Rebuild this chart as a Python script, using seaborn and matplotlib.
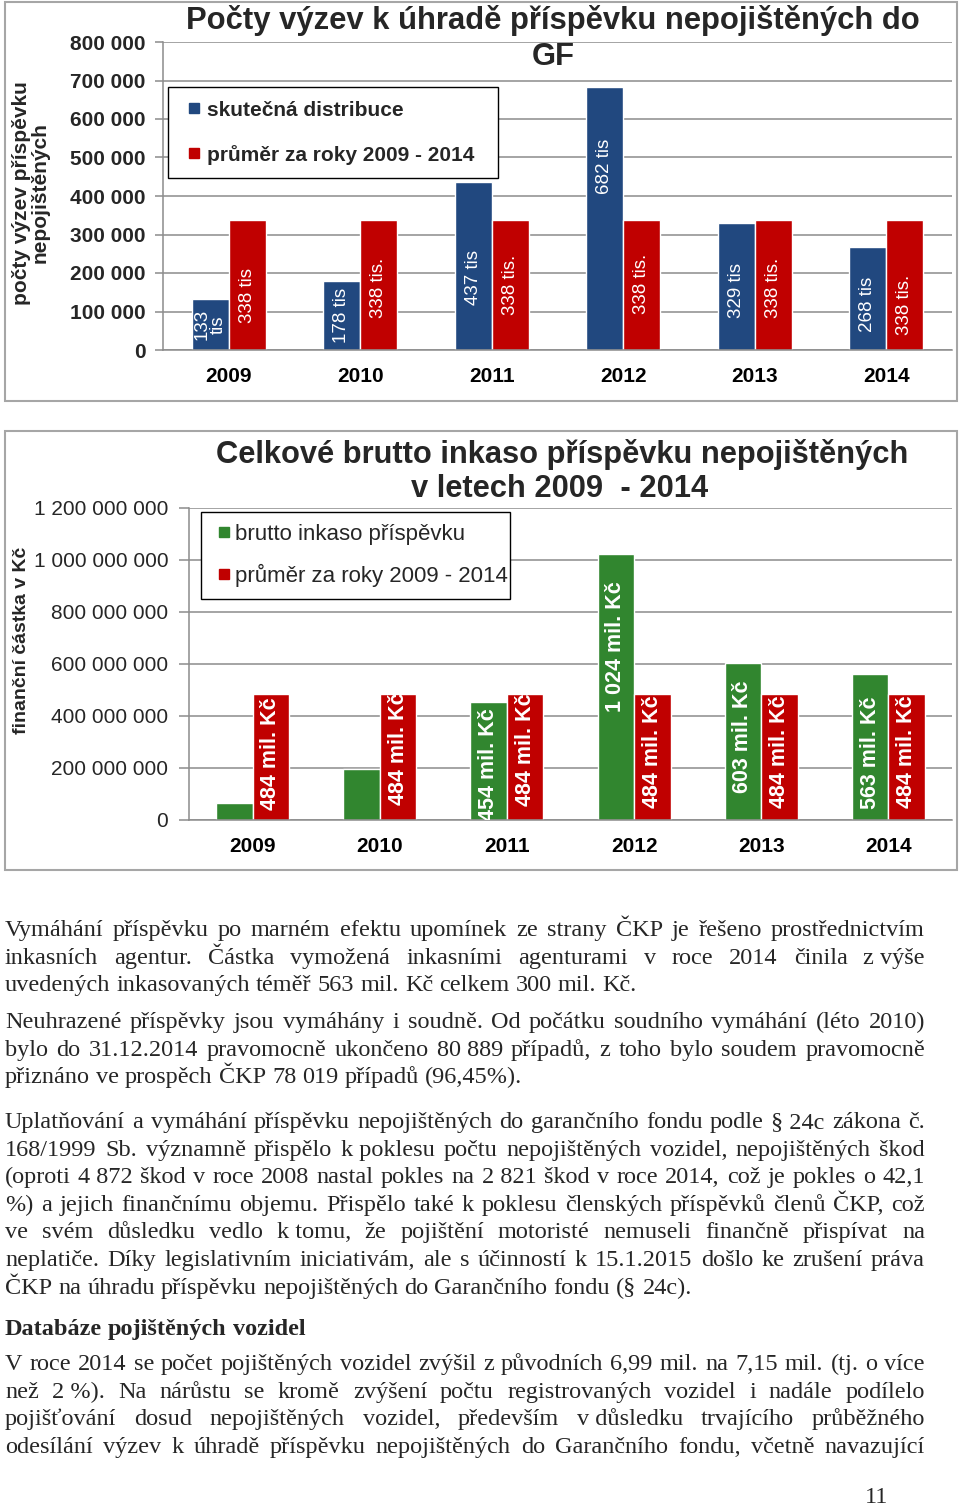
import numpy as np
import pandas as pd
import matplotlib
matplotlib.use('Agg')
import matplotlib.pyplot as plt
from matplotlib.patches import Rectangle
from matplotlib.lines import Line2D
import seaborn as sns

roky = ['2009', '2010', '2011', '2012', '2013', '2014']

# graf 1 - pocty vyzev k uhrade
vyzvy_skutecne = [133000, 178000, 437000, 682000, 329000, 268000]
vyzvy_prumer = [338000, 338000, 338000, 338000, 338000, 338000]
vyzvy_popis_skut = ['133\ntis', '178 tis', '437 tis', '682 tis', '329 tis', '268 tis']
vyzvy_popis_prum = ['338 tis', '338 tis.', '338 tis.', '338 tis.', '338 tis.', '338 tis.']

# graf 2 - brutto inkaso
inkaso_brutto = [65e6, 196e6, 454e6, 1024e6, 603e6, 563e6]
inkaso_prumer = [484e6, 484e6, 484e6, 484e6, 484e6, 484e6]
inkaso_popis_brutto = ['', '', '454 mil. Kč', '1 024 mil. Kč', '603 mil. Kč', '563 mil. Kč']
inkaso_popis_prum = ['484 mil. Kč'] * 6

# kde v ramci sloupce sedi popisek (podil vysky sloupce)
poloha1_skut = [0.5, 0.5, 0.43, 0.7, 0.47, 0.44]
poloha1_prum = [0.42, 0.48, 0.5, 0.51, 0.48, 0.35]
poloha2_brutto = [0.5, 0.5, 0.47, 0.65, 0.53, 0.46]
poloha2_prum = [0.53, 0.57, 0.56, 0.54, 0.54, 0.54]

MODRA = '#21487f'
CERVENA = '#c00000'
ZELENA = '#31862f'
SEDA = '#8c8c8c'

sns.set_theme(style='white')
plt.rcParams['font.family'] = ['Liberation Sans', 'DejaVu Sans']

W, H = 960, 1506
fig = plt.figure(figsize=(W / 100, H / 100), dpi=100)


def box(x0, y0, x1, y1):
    return [x0 / W, 1 - y1 / H, (x1 - x0) / W, (y1 - y0) / H]


def fx(x):
    return x / W


def fy(y):
    return 1 - y / H


def mezery(v, pos):
    return f'{int(round(v)):,}'.replace(',', ' ')


def ctverec(barva, popis):
    return Line2D([], [], marker='s', color='none', markerfacecolor=barva,
                  markeredgecolor=barva, markersize=7.2, label=popis)


def graf(ax, h1, h2, nazvy, barvy, pop1, pop2, pol1, pol2, ymax, krok,
         sirka, ytick_w, pop_w, pop_size, tick_len, ypad):
    df = pd.DataFrame({
        'rok': roky * 2,
        'hodnota': list(h1) + list(h2),
        'serie': [nazvy[0]] * 6 + [nazvy[1]] * 6,
    })
    sns.barplot(data=df, x='rok', y='hodnota', hue='serie', palette=barvy,
                width=sirka, saturation=1, errorbar=None, legend=False, ax=ax)
    ax.set_xlim(-0.5, 5.5)
    ax.set_ylim(0, ymax)
    ax.set_yticks(np.arange(0, ymax + 1, krok))
    ax.yaxis.set_major_formatter(plt.FuncFormatter(mezery))
    ax.yaxis.grid(True, color=SEDA, lw=1.1)
    ax.set_axisbelow(True)
    for s in ['top', 'right']:
        ax.spines[s].set_visible(False)
    for s in ['left', 'bottom']:
        ax.spines[s].set_color(SEDA)
        ax.spines[s].set_linewidth(1.1)
    ax.set_xlabel('')
    ax.set_ylabel('')
    ax.set_xticks(range(6))
    ax.set_xticklabels(roky, fontweight='bold', fontsize=15)
    ax.set_xticks(np.arange(-0.5, 6, 1), minor=True)
    ax.tick_params(axis='x', which='major', length=0, pad=12, colors='black')
    ax.tick_params(axis='x', which='minor', length=6, width=1.1, color=SEDA, direction='out')
    ax.tick_params(axis='y', length=tick_len, width=1.1, color=SEDA, direction='out',
                   pad=ypad, labelsize=15, left=True)
    for t in ax.get_yticklabels():
        t.set_fontweight(ytick_w)
    ax.set_facecolor('white')

    for kont, popisky, polohy, hodnoty in zip(ax.containers, [pop1, pop2], [pol1, pol2], [h1, h2]):
        for bar, txt, p, v in zip(kont.patches, popisky, polohy, hodnoty):
            if not txt:
                continue
            ax.text(bar.get_x() + bar.get_width() / 2, v * p, txt, rotation=90,
                    ha='center', va='center', color='white', fontsize=pop_size,
                    fontweight=pop_w, linespacing=0.95, clip_on=True)


# ramecky grafu
for rb in [(5, 2, 957, 401), (5, 431, 957, 870)]:
    fig.patches.append(Rectangle((fx(rb[0]), fy(rb[3])), (rb[2] - rb[0]) / W, (rb[3] - rb[1]) / H,
                                 transform=fig.transFigure, fill=False,
                                 edgecolor='#a6a6a6', lw=1.5))

# ---------- graf 1 ----------
ax1 = fig.add_axes(box(163, 42, 952, 350))
graf(ax1, vyzvy_skutecne, vyzvy_prumer, ['skutečná distribuce', 'průměr za roky 2009 - 2014'],
     [MODRA, CERVENA], vyzvy_popis_skut, vyzvy_popis_prum, poloha1_skut, poloha1_prum,
     800000, 100000, 0.56, 'bold', 'normal', 13.5, 6, 6.5)
fig.text(fx(553), fy(21), 'Počty výzev k úhradě příspěvku nepojištěných do',
         ha='center', va='center', fontsize=22.3, fontweight='bold')
fig.text(fx(553), fy(57), 'GF', ha='center', va='center', fontsize=22.3, fontweight='bold')
fig.text(fx(31), fy(193), 'počty výzev příspěvku\nnepojištěných', rotation=90,
         ha='center', va='center', fontsize=15, fontweight='bold', linespacing=1.0)
fig.legend(handles=[ctverec(MODRA, 'skutečná distribuce'),
                    ctverec(CERVENA, 'průměr za roky 2009 - 2014')],
           loc='upper left', bbox_to_anchor=(fx(168), fy(178), 330 / W, 91 / H), mode='expand',
           prop={'weight': 'bold', 'size': 15}, frameon=True, fancybox=False,
           edgecolor='black', framealpha=1, borderpad=0.65, labelspacing=1.2,
           handlelength=1.2, handletextpad=0.0, borderaxespad=0)

# ---------- graf 2 ----------
ax2 = fig.add_axes(box(189, 508, 952, 820))
graf(ax2, inkaso_brutto, inkaso_prumer, ['brutto inkaso příspěvku', 'průměr za roky 2009 - 2014'],
     [ZELENA, CERVENA], inkaso_popis_brutto, inkaso_popis_prum, poloha2_brutto, poloha2_prum,
     1.2e9, 2e8, 0.575, 'normal', 'bold', 15.5, 7, 8)
fig.text(fx(562), fy(455), 'Celkové brutto inkaso příspěvku nepojištěných',
         ha='center', va='center', fontsize=22.2, fontweight='bold')
fig.text(fx(560), fy(489), 'v letech 2009  - 2014',
         ha='center', va='center', fontsize=22.2, fontweight='bold')
fig.text(fx(22), fy(640), 'finanční částka v Kč', rotation=90,
         ha='center', va='center', fontsize=14, fontweight='bold')
fig.legend(handles=[ctverec(ZELENA, 'brutto inkaso příspěvku'),
                    ctverec(CERVENA, 'průměr za roky 2009 - 2014')],
           loc='upper left', bbox_to_anchor=(fx(201), fy(597), 309 / W, 85 / H), mode='expand',
           prop={'size': 16}, frameon=True, fancybox=False,
           edgecolor='black', framealpha=1, borderpad=0.55, labelspacing=0.85,
           handlelength=1.0, handletextpad=0.0, borderaxespad=0)

# ---------- text pod grafy ----------
NB = '\u00a0'
radky = [
    ("Vymáhání příspěvku po marném efektu upomínek ze strany ČKP je řešeno prostřednictvím", 936, True, 'normal'),
    ("inkasních agentur. Částka vymožená inkasními agenturami v roce 2014 činila z" + NB + "výše", 963.6, True, 'normal'),
    ("uvedených inkasovaných téměř 563 mil. Kč celkem 300 mil. Kč.", 991.2, False, 'normal'),
    ("Neuhrazené příspěvky jsou vymáhány i soudně. Od počátku soudního vymáhání (léto 2010)", 1028, True, 'normal'),
    ("bylo do 31.12.2014 pravomocně ukončeno 80" + NB + "889 případů, z toho bylo soudem pravomocně", 1055.6, True, 'normal'),
    ("přiznáno ve prospěch ČKP 78 019 případů (96,45%).", 1083.2, False, 'normal'),
    ("Uplatňování a vymáhání příspěvku nepojištěných do garančního fondu podle §" + NB + "24c zákona č.", 1128, True, 'normal'),
    ("168/1999 Sb. významně přispělo k" + NB + "poklesu počtu nepojištěných vozidel, nepojištěných škod", 1155.6, True, 'normal'),
    ("(oproti 4" + NB + "872 škod v roce 2008 nastal pokles na 2" + NB + "821 škod v roce 2014, což je pokles o 42,1", 1183.2, True, 'normal'),
    ("%) a jejich finančnímu objemu. Přispělo také k poklesu členských příspěvků členů ČKP, což", 1210.8, True, 'normal'),
    ("ve svém důsledku vedlo k" + NB + "tomu, že pojištění motoristé nemuseli finančně přispívat na", 1238.4, True, 'normal'),
    ("neplatiče. Díky legislativním iniciativám, ale s účinností k 15.1.2015 došlo ke zrušení práva", 1266, True, 'normal'),
    ("ČKP na úhradu příspěvku nepojištěných do Garančního fondu (§ 24c).", 1293.6, False, 'normal'),
    ("Databáze pojištěných vozidel", 1335, False, 'bold'),
    ("V roce 2014 se počet pojištěných vozidel zvýšil z původních 6,99 mil. na 7,15 mil. (tj. o více", 1370, True, 'normal'),
    ("než 2" + NB + "%). Na nárůstu se kromě zvýšení počtu registrovaných vozidel i nadále podílelo", 1397.6, True, 'normal'),
    ("pojišťování dosud nepojištěných vozidel, především v" + NB + "důsledku trvajícího průběžného", 1425.2, True, 'normal'),
    ("odesílání výzev k úhradě příspěvku nepojištěných do Garančního fondu, včetně navazující", 1452.8, True, 'normal'),
]

SERIF = ['Liberation Serif', 'DejaVu Serif']
LEVY, PRAVY = 5, 925
renderer = fig.canvas.get_renderer()


def sirka(s, size, weight='normal'):
    t = fig.text(0, 0, s, fontsize=size, family=SERIF, fontweight=weight)
    w = t.get_window_extent(renderer).width
    t.remove()
    return w


# velikost pisma podle neroztazeneho radku (sirka cca 632 px)
vel = 16 * 632 / sirka(radky[2][0], 16)

for text, yb, zarovnat, vaha in radky:
    slova = text.split(' ')
    sirky = [sirka(s, vel, vaha) for s in slova]
    if zarovnat:
        mezera = (PRAVY - LEVY - sum(sirky)) / (len(slova) - 1)
    else:
        mezera = 0.25 * vel * 100 / 72
    x = LEVY
    for s, w in zip(slova, sirky):
        fig.text(fx(x), fy(yb), s, fontsize=vel, family=SERIF, fontweight=vaha,
                 ha='left', va='baseline')
        x += w + mezera

fig.text(fx(865), fy(1503), '11', fontsize=vel, family=SERIF, ha='left', va='baseline')

fig.savefig('out.png', dpi=100, facecolor='white')
